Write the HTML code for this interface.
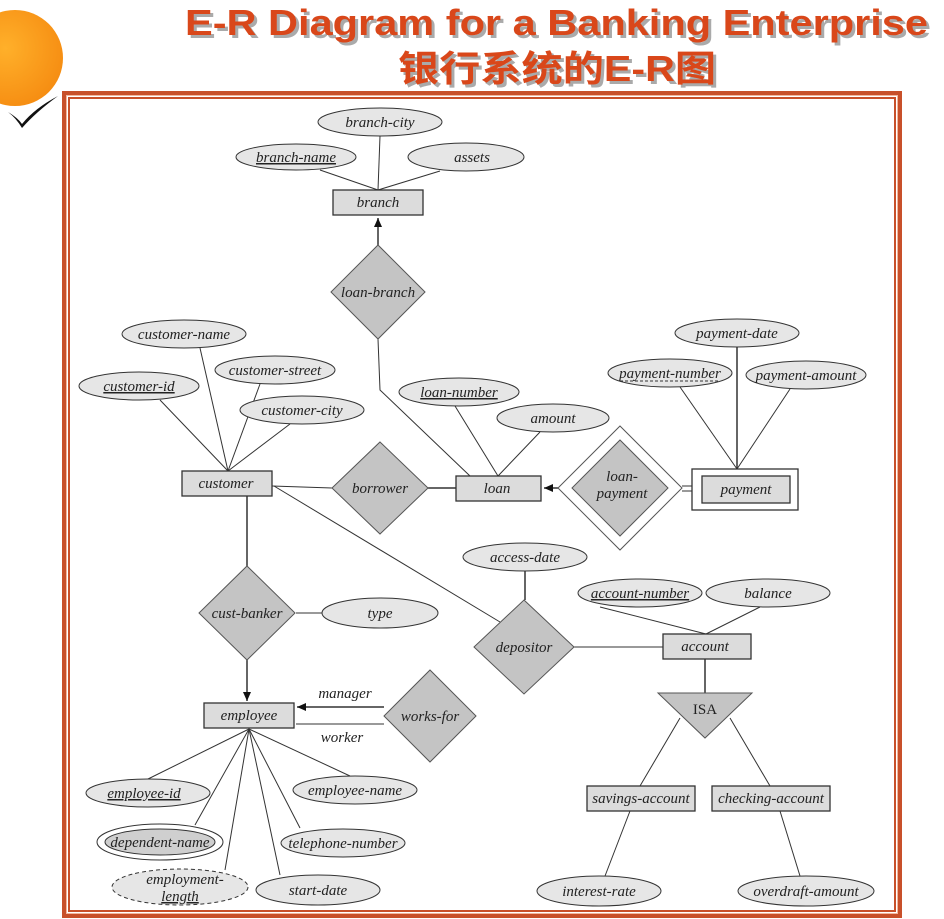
<!DOCTYPE html>
<html><head><meta charset="utf-8"><style>
html,body{margin:0;padding:0;background:#fff;width:944px;height:919px;overflow:hidden}
svg{display:block}
text{font-family:"Liberation Serif",serif;font-style:italic;font-size:15px;fill:#222}
text.t{font-family:"Liberation Sans","Noto Sans CJK SC",sans-serif;font-style:normal;font-weight:bold;font-size:36px;fill:#d9471a}
text.s{fill:#aaa}
.e{fill:#e6e6e6;stroke:#333;stroke-width:1}
.r{fill:#dcdcdc;stroke:#333;stroke-width:1.3}
.d{fill:#c4c4c4;stroke:#555;stroke-width:1}
.l{stroke:#333;stroke-width:1;fill:none}
.l2{stroke:#333;stroke-width:1.5;fill:none}
</style></head><body>
<svg width="944" height="919" viewBox="0 0 944 919">
<defs>
<radialGradient id="g" cx="0.4" cy="0.4" r="0.7"><stop offset="0" stop-color="#ffb02a"/><stop offset="1" stop-color="#f58a10"/></radialGradient>
<marker id="a" markerWidth="10" markerHeight="10" refX="9" refY="5" orient="auto" markerUnits="userSpaceOnUse"><path d="M0,1 L9,5 L0,9 Z" fill="#111"/></marker>
</defs>
<circle cx="15" cy="58" r="48" fill="url(#g)"/>
<path d="M8,112 Q18,118 22,124 Q35,108 58,96 Q36,112 22,128 Q16,118 8,112Z" fill="#111"/>
<text class="t s" x="188" y="38" textLength="743" lengthAdjust="spacingAndGlyphs">E-R Diagram for a Banking Enterprise</text>
<text class="t" x="185" y="35" textLength="743" lengthAdjust="spacingAndGlyphs">E-R Diagram for a Banking Enterprise</text>
<text class="t s" x="401" y="84" textLength="318" lengthAdjust="spacingAndGlyphs">银行系统的E-R图</text>
<text class="t" x="398" y="81" textLength="318" lengthAdjust="spacingAndGlyphs">银行系统的E-R图</text>
<!-- frame -->
<rect x="64" y="93" width="836" height="823" fill="none" stroke="#c8502a" stroke-width="4"/>
<rect x="69" y="98" width="826" height="813" fill="none" stroke="#c8502a" stroke-width="2"/>
<rect x="66.5" y="95.5" width="831" height="818" fill="none" stroke="#f3b69c" stroke-width="1"/>
<!-- lines -->
<g class="l">
<line x1="380" y1="136" x2="378" y2="190"/><line x1="320" y1="170" x2="378" y2="190"/><line x1="440" y1="171" x2="378" y2="190"/>
<polyline points="378,339 380,390 470,476"/>
<line x1="200" y1="348" x2="228" y2="471"/><line x1="260" y1="384" x2="228" y2="471"/><line x1="160" y1="400" x2="228" y2="471"/><line x1="290" y1="424" x2="228" y2="471"/>
<line x1="272" y1="486" x2="332" y2="488"/>
<line x1="455" y1="406" x2="498" y2="476"/><line x1="540" y1="432" x2="498" y2="476"/>
<line x1="680" y1="387" x2="737" y2="469"/><line x1="790" y1="389" x2="737" y2="469"/>
<line x1="274" y1="486" x2="500" y2="622"/>
<line x1="296" y1="613" x2="322" y2="613"/>
<line x1="600" y1="607" x2="706" y2="634"/><line x1="760" y1="607" x2="706" y2="634"/>
<line x1="574" y1="647" x2="663" y2="647"/>
<line x1="296" y1="724" x2="384" y2="724"/>
<line x1="680" y1="718" x2="640" y2="786"/><line x1="730" y1="718" x2="770" y2="786"/>
<line x1="630" y1="811" x2="605" y2="876"/><line x1="780" y1="811" x2="800" y2="876"/>
<line x1="249" y1="729" x2="148" y2="779"/><line x1="249" y1="729" x2="195" y2="825"/><line x1="249" y1="729" x2="225" y2="870"/><line x1="249" y1="729" x2="280" y2="875"/><line x1="249" y1="729" x2="300" y2="828"/><line x1="249" y1="729" x2="350" y2="776"/>
<line x1="682" y1="486" x2="692" y2="486"/><line x1="682" y1="491" x2="692" y2="491"/>
</g>
<g class="l2">
<line x1="378" y1="245" x2="378" y2="218" marker-end="url(#a)"/>
<line x1="428" y1="488" x2="456" y2="488"/>
<line x1="558" y1="488" x2="544" y2="488" marker-end="url(#a)"/>
<line x1="737" y1="347" x2="737" y2="469"/>
<line x1="247" y1="496" x2="247" y2="566"/>
<line x1="247" y1="660" x2="247" y2="701" marker-end="url(#a)"/>
<line x1="384" y1="707" x2="297" y2="707" marker-end="url(#a)"/>
<line x1="525" y1="571" x2="525" y2="600"/>
<line x1="705" y1="659" x2="705" y2="693"/>
</g>
<!-- attributes -->
<ellipse class="e" cx="380" cy="122" rx="62" ry="14"/><text x="380" y="127" text-anchor="middle">branch-city</text>
<ellipse class="e" cx="296" cy="157" rx="60" ry="13"/><text x="296" y="162" text-anchor="middle" text-decoration="underline">branch-name</text>
<ellipse class="e" cx="466" cy="157" rx="58" ry="14"/><text x="472" y="162" text-anchor="middle">assets</text>
<ellipse class="e" cx="184" cy="334" rx="62" ry="14"/><text x="184" y="339" text-anchor="middle">customer-name</text>
<ellipse class="e" cx="275" cy="370" rx="60" ry="14"/><text x="275" y="375" text-anchor="middle">customer-street</text>
<ellipse class="e" cx="139" cy="386" rx="60" ry="14"/><text x="139" y="391" text-anchor="middle" text-decoration="underline">customer-id</text>
<ellipse class="e" cx="302" cy="410" rx="62" ry="14"/><text x="302" y="415" text-anchor="middle">customer-city</text>
<ellipse class="e" cx="459" cy="392" rx="60" ry="14"/><text x="459" y="397" text-anchor="middle" text-decoration="underline">loan-number</text>
<ellipse class="e" cx="553" cy="418" rx="56" ry="14"/><text x="553" y="423" text-anchor="middle">amount</text>
<ellipse class="e" cx="737" cy="333" rx="62" ry="14"/><text x="737" y="338" text-anchor="middle">payment-date</text>
<ellipse class="e" cx="670" cy="373" rx="62" ry="14"/><text x="670" y="378" text-anchor="middle">payment-number</text>
<line x1="620" y1="381" x2="720" y2="381" stroke="#333" stroke-dasharray="3,2"/>
<ellipse class="e" cx="806" cy="375" rx="60" ry="14"/><text x="806" y="380" text-anchor="middle">payment-amount</text>
<ellipse class="e" cx="380" cy="613" rx="58" ry="15"/><text x="380" y="618" text-anchor="middle">type</text>
<ellipse class="e" cx="525" cy="557" rx="62" ry="14"/><text x="525" y="562" text-anchor="middle">access-date</text>
<ellipse class="e" cx="640" cy="593" rx="62" ry="14"/><text x="640" y="598" text-anchor="middle" text-decoration="underline">account-number</text>
<ellipse class="e" cx="768" cy="593" rx="62" ry="14"/><text x="768" y="598" text-anchor="middle">balance</text>
<ellipse class="e" cx="148" cy="793" rx="62" ry="14"/><text x="144" y="798" text-anchor="middle" text-decoration="underline">employee-id</text>
<ellipse class="e" cx="355" cy="790" rx="62" ry="14"/><text x="355" y="795" text-anchor="middle">employee-name</text>
<ellipse fill="#fff" stroke="#333" cx="160" cy="842" rx="63" ry="18"/><ellipse cx="160" cy="842" rx="55" ry="13" fill="#cfcfcf" stroke="#333"/><text x="160" y="847" text-anchor="middle">dependent-name</text>
<ellipse class="e" cx="343" cy="843" rx="62" ry="14"/><text x="343" y="848" text-anchor="middle">telephone-number</text>
<ellipse class="e" cx="180" cy="887" rx="68" ry="18" stroke-dasharray="4,3"/><text x="185" y="884" text-anchor="middle">employment-</text><text x="180" y="901" text-anchor="middle" text-decoration="underline">length</text>
<ellipse class="e" cx="318" cy="890" rx="62" ry="15"/><text x="318" y="895" text-anchor="middle">start-date</text>
<ellipse class="e" cx="599" cy="891" rx="62" ry="15"/><text x="599" y="896" text-anchor="middle">interest-rate</text>
<ellipse class="e" cx="806" cy="891" rx="68" ry="15"/><text x="806" y="896" text-anchor="middle">overdraft-amount</text>
<!-- entities -->
<rect class="r" x="333" y="190" width="90" height="25"/><text x="378" y="207" text-anchor="middle">branch</text>
<rect class="r" x="182" y="471" width="90" height="25"/><text x="226" y="488" text-anchor="middle">customer</text>
<rect class="r" x="456" y="476" width="85" height="25"/><text x="497" y="493" text-anchor="middle">loan</text>
<rect x="692" y="469" width="106" height="41" fill="#fff" stroke="#333" stroke-width="1.3"/>
<rect class="r" x="702" y="476" width="88" height="27"/><text x="746" y="494" text-anchor="middle">payment</text>
<rect class="r" x="204" y="703" width="90" height="25"/><text x="249" y="720" text-anchor="middle">employee</text>
<rect class="r" x="663" y="634" width="88" height="25"/><text x="705" y="651" text-anchor="middle">account</text>
<rect class="r" x="587" y="786" width="108" height="25"/><text x="641" y="803" text-anchor="middle">savings-account</text>
<rect class="r" x="712" y="786" width="118" height="25"/><text x="771" y="803" text-anchor="middle">checking-account</text>
<!-- relationships -->
<polygon class="d" points="378,245 425,292 378,339 331,292"/><text x="378" y="297" text-anchor="middle">loan-branch</text>
<polygon class="d" points="380,442 428,488 380,534 332,488"/><text x="380" y="493" text-anchor="middle">borrower</text>
<polygon fill="#fff" stroke="#555" points="620,426 682,488 620,550 558,488"/>
<polygon class="d" points="620,440 668,488 620,536 572,488"/><text x="622" y="481" text-anchor="middle">loan-</text><text x="622" y="498" text-anchor="middle">payment</text>
<polygon class="d" points="247,566 295,613 247,660 199,613"/><text x="247" y="618" text-anchor="middle">cust-banker</text>
<polygon class="d" points="524,600 574,647 524,694 474,647"/><text x="524" y="652" text-anchor="middle">depositor</text>
<polygon class="d" points="430,670 476,716 430,762 384,716"/><text x="430" y="721" text-anchor="middle">works-for</text>
<text x="345" y="698" text-anchor="middle">manager</text><text x="342" y="742" text-anchor="middle">worker</text>
<polygon class="d" points="658,693 752,693 705,738"/><text x="705" y="714" text-anchor="middle" style="font-style:normal">ISA</text>
</svg>
</body></html>
